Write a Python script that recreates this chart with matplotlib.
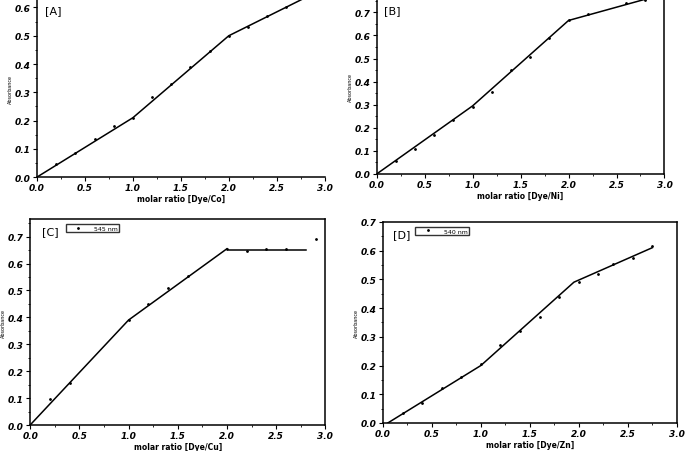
import numpy as np
import matplotlib
matplotlib.use('Agg')
import matplotlib.pyplot as plt
from matplotlib.ticker import MultipleLocator

# Panel A - Dye/Co
a_x = [0.2, 0.4, 0.6, 0.8, 1.0, 1.2, 1.4, 1.6, 1.8, 2.0, 2.2, 2.4, 2.6, 2.8]
a_y = [0.045, 0.085, 0.135, 0.18, 0.21, 0.285, 0.33, 0.39, 0.445, 0.50, 0.53, 0.57, 0.60, 0.635]
a_fit_x = [0.0, 1.0, 2.0, 2.8]
a_fit_y = [0.0, 0.21, 0.50, 0.635]

# Panel B - Dye/Ni
b_x = [0.2, 0.4, 0.6, 0.8, 1.0, 1.2, 1.4, 1.6, 1.8, 2.0, 2.2, 2.6, 2.8]
b_y = [0.055, 0.11, 0.17, 0.235, 0.29, 0.355, 0.45, 0.505, 0.59, 0.665, 0.695, 0.74, 0.755]
b_fit_x = [0.0, 1.0, 2.0, 2.8]
b_fit_y = [0.0, 0.295, 0.665, 0.757]

# Panel C - Dye/Cu
c_x = [0.2, 0.4, 1.0, 1.2, 1.4, 1.6, 2.0, 2.2, 2.4, 2.6, 2.9]
c_y = [0.095, 0.155, 0.39, 0.45, 0.51, 0.555, 0.655, 0.645, 0.655, 0.655, 0.69]
c_fit1_x = [0.0, 1.0, 2.0]
c_fit1_y = [0.0, 0.39, 0.655]
c_fit2_x = [2.02, 2.8]
c_fit2_y = [0.65, 0.65]

# Panel D - Dye/Zn
d_x = [0.2, 0.4, 0.6, 0.8, 1.0, 1.2, 1.4, 1.6, 1.8, 2.0, 2.2, 2.35, 2.55, 2.75]
d_y = [0.035, 0.068, 0.12, 0.16, 0.205, 0.27, 0.32, 0.37, 0.44, 0.49, 0.52, 0.555, 0.575, 0.615]
d_fit_x = [0.05, 1.0, 1.95, 2.75]
d_fit_y = [0.0, 0.2, 0.49, 0.61]

fig = plt.figure(figsize=(6.85, 4.52), dpi=100)

def setup(ax, ytop, xlabel, tag, tagx, legx=None):
    ax.set_xlim(0, 3.0)
    ax.set_ylim(0, ytop)
    ax.xaxis.set_major_locator(MultipleLocator(0.5))
    ax.xaxis.set_minor_locator(MultipleLocator(0.25))
    ax.yaxis.set_major_locator(MultipleLocator(0.1))
    ax.yaxis.set_minor_locator(MultipleLocator(0.05))
    ax.tick_params(which='major', length=3, width=0.8, labelsize=6.5, pad=1.5)
    ax.tick_params(which='minor', length=1.5, width=0.6)
    for lab in ax.get_xticklabels() + ax.get_yticklabels():
        lab.set_fontweight('bold')
        lab.set_fontstyle('italic')
    for s in ax.spines.values():
        s.set_linewidth(1.1)
    ax.set_xlabel(xlabel, fontsize=5.5, fontweight='bold', labelpad=1)
    ax.set_ylabel('Absorbance', fontsize=3.5, labelpad=1.5)
    ax.text(tagx, 0.965, tag, transform=ax.transAxes, fontsize=8, va='top')
    if legx is not None:
        ax.legend(loc='upper left', bbox_to_anchor=(legx, 0.99), fontsize=4.5,
                  frameon=True, fancybox=False, edgecolor='k', handlelength=3.5,
                  borderpad=0.2, markerscale=1.0)
        ax.get_legend().get_frame().set_linewidth(1.0)

# [A]
ax1 = fig.add_axes([0.054, 0.606, 0.420, 0.394])
ax1.plot(a_x, a_y, 'k.', markersize=2)
ax1.plot(a_fit_x, a_fit_y, 'k-', linewidth=1.1)
setup(ax1, 0.63, 'molar ratio [Dye/Co]', '[A]', 0.028)
ax1.spines['top'].set_visible(False)
ax1.spines['right'].set_visible(False)
ax1.set_yticks([0.0, 0.1, 0.2, 0.3, 0.4, 0.5, 0.6])

# [B]
ax2 = fig.add_axes([0.550, 0.613, 0.420, 0.387])
ax2.plot(b_x, b_y, 'k.', markersize=2)
ax2.plot(b_fit_x, b_fit_y, 'k-', linewidth=1.1)
setup(ax2, 0.758, 'molar ratio [Dye/Ni]', '[B]', 0.025)
ax2.spines['top'].set_visible(False)

# [C]
ax3 = fig.add_axes([0.044, 0.0575, 0.431, 0.4555])
ax3.plot(c_x, c_y, 'k.', markersize=2, label='545 nm')
ax3.plot(c_fit1_x, c_fit1_y, 'k-', linewidth=1.1)
ax3.plot(c_fit2_x, c_fit2_y, 'k-', linewidth=1.1)
setup(ax3, 0.765, 'molar ratio [Dye/Cu]', '[C]', 0.04, legx=0.11)

# [D]
ax4 = fig.add_axes([0.559, 0.062, 0.429, 0.445])
ax4.plot(d_x, d_y, 'k.', markersize=2, label='540 nm')
ax4.plot(d_fit_x, d_fit_y, 'k-', linewidth=1.1)
setup(ax4, 0.7, 'molar ratio [Dye/Zn]', '[D]', 0.035, legx=0.10)

fig.savefig('out.png', dpi=100)
